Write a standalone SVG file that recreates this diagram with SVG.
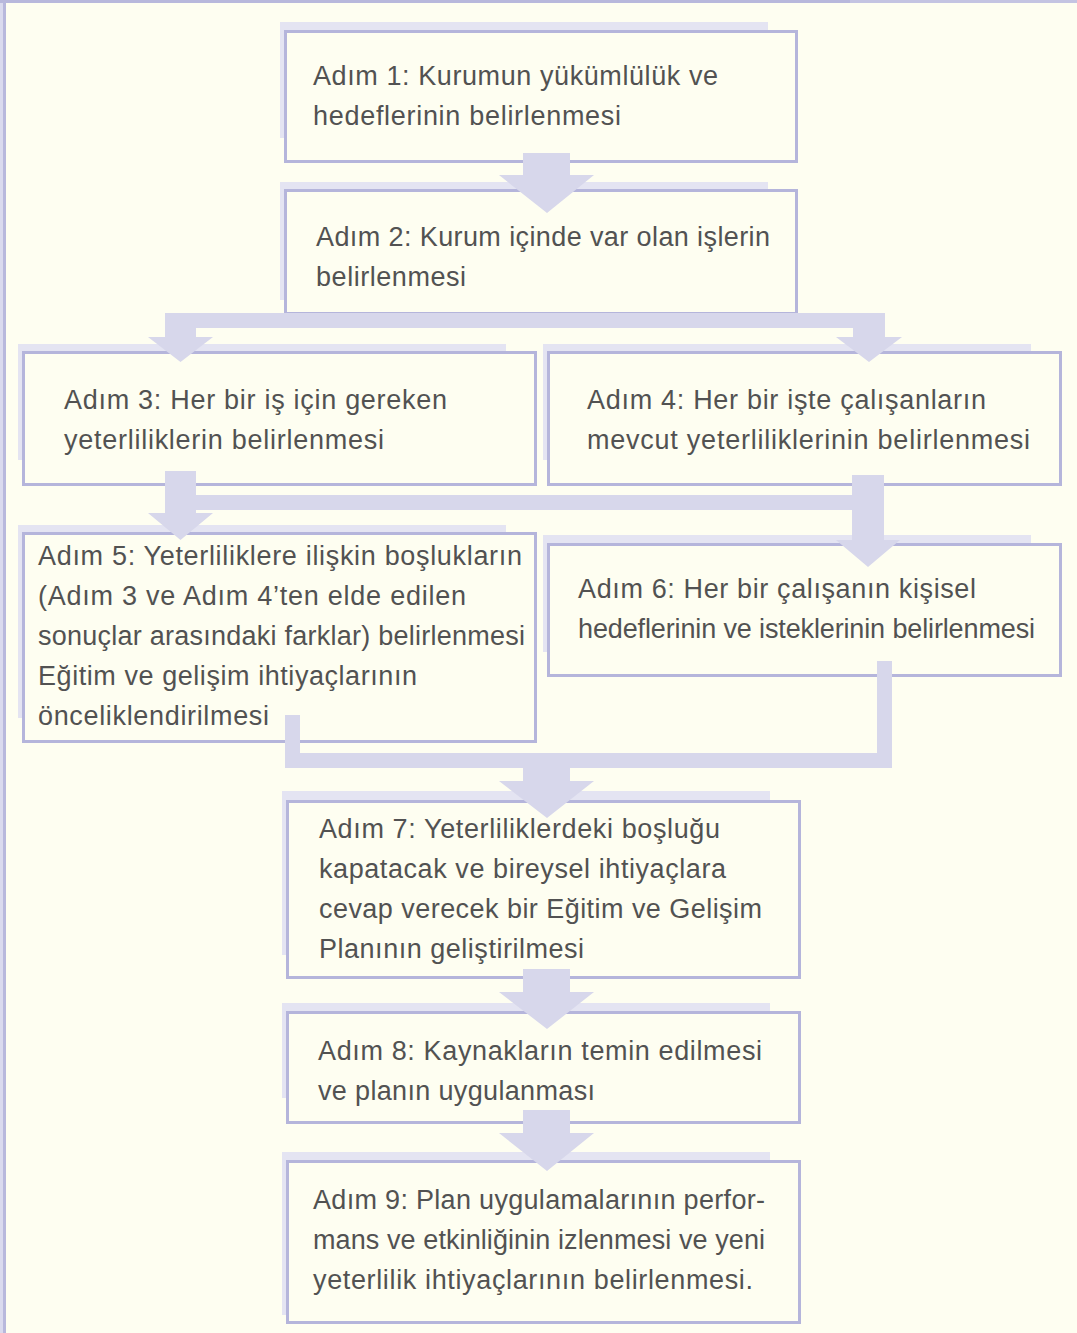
<svg xmlns="http://www.w3.org/2000/svg" width="1077" height="1333" viewBox="0 0 1077 1333">
<style>
.sh{fill:#E4E4F2}
.bx{fill:#FEFEF1;stroke:#B5B5DB;stroke-width:3}
.t{font-family:"Liberation Sans",Arial,sans-serif;font-size:27px;fill:#525252}
.ar{fill:#D7D7EB}
</style>
<rect x="0" y="0" width="1077" height="1333" fill="#FEFEF1"/>
<rect x="0" y="0" width="3" height="1333" fill="#DADAEE"/>
<rect x="3" y="0" width="3" height="1333" fill="#B8B8DC"/>
<rect x="0" y="0" width="850" height="3" fill="#B8B8DC"/>
<rect x="850" y="0" width="227" height="3" fill="#C4C4E2"/>

<g id="n1">
<rect class="sh" x="280" y="22" width="488" height="116"/>
<rect class="bx" x="285.5" y="31.5" width="511" height="130"/>
<text class="t" x="313" y="85" textLength="405" lengthAdjust="spacing">Adım 1: Kurumun yükümlülük ve</text>
<text class="t" x="313" y="125" textLength="308" lengthAdjust="spacing">hedeflerinin belirlenmesi</text>
</g>
<g id="n2">
<rect class="sh" x="280" y="182" width="488" height="118"/>
<rect class="bx" x="285.5" y="190.5" width="511" height="123"/>
<text class="t" x="316" y="246" textLength="454" lengthAdjust="spacing">Adım 2: Kurum içinde var olan işlerin</text>
<text class="t" x="316" y="286" textLength="150" lengthAdjust="spacing">belirlenmesi</text>
</g>
<g id="n3">
<rect class="sh" x="18" y="344" width="488" height="116"/>
<rect class="bx" x="23.5" y="352.5" width="512" height="132"/>
<text class="t" x="64" y="409" textLength="383" lengthAdjust="spacing">Adım 3: Her bir iş için gereken</text>
<text class="t" x="64" y="449" textLength="320" lengthAdjust="spacing">yeterliliklerin belirlenmesi</text>
</g>
<g id="n4">
<rect class="sh" x="543" y="344" width="488" height="116"/>
<rect class="bx" x="548.5" y="352.5" width="512" height="132"/>
<text class="t" x="587" y="409" textLength="399" lengthAdjust="spacing">Adım 4: Her bir işte çalışanların</text>
<text class="t" x="587" y="449" textLength="443" lengthAdjust="spacing">mevcut yeterliliklerinin belirlenmesi</text>
</g>
<g id="n5">
<rect class="sh" x="18" y="525" width="488" height="193"/>
<rect class="bx" x="23.5" y="533.5" width="512" height="208"/>
<text class="t" x="38" y="565" textLength="484" lengthAdjust="spacing">Adım 5: Yeterliliklere ilişkin boşlukların</text>
<text class="t" x="38" y="605" textLength="428" lengthAdjust="spacing">(Adım 3 ve Adım 4’ten elde edilen</text>
<text class="t" x="38" y="645" textLength="487" lengthAdjust="spacing">sonuçlar arasındaki farklar) belirlenmesi</text>
<text class="t" x="38" y="685" textLength="379" lengthAdjust="spacing">Eğitim ve gelişim ihtiyaçlarının</text>
<text class="t" x="38" y="725" textLength="231" lengthAdjust="spacing">önceliklendirilmesi</text>
</g>
<g id="n6">
<rect class="sh" x="543" y="535" width="488" height="117"/>
<rect class="bx" x="548.5" y="544.5" width="512" height="131"/>
<text class="t" x="578" y="598" textLength="398" lengthAdjust="spacing">Adım 6: Her bir çalışanın kişisel</text>
<text class="t" x="578" y="638" textLength="457" lengthAdjust="spacing">hedeflerinin ve isteklerinin belirlenmesi</text>
</g>
<g id="n7">
<rect class="sh" x="282" y="791" width="488" height="164"/>
<rect class="bx" x="287.5" y="801.5" width="512" height="176"/>
<text class="t" x="319" y="838" textLength="401" lengthAdjust="spacing">Adım 7: Yeterliliklerdeki boşluğu</text>
<text class="t" x="319" y="878" textLength="407" lengthAdjust="spacing">kapatacak ve bireysel ihtiyaçlara</text>
<text class="t" x="319" y="918" textLength="443" lengthAdjust="spacing">cevap verecek bir Eğitim ve Gelişim</text>
<text class="t" x="319" y="958" textLength="265" lengthAdjust="spacing">Planının geliştirilmesi</text>
</g>
<g id="n8">
<rect class="sh" x="282" y="1003" width="488" height="95"/>
<rect class="bx" x="287.5" y="1012.5" width="512" height="110"/>
<text class="t" x="318" y="1060" textLength="444" lengthAdjust="spacing">Adım 8: Kaynakların temin edilmesi</text>
<text class="t" x="318" y="1100" textLength="277" lengthAdjust="spacing">ve planın uygulanması</text>
</g>
<g id="n9">
<rect class="sh" x="282" y="1152" width="488" height="163"/>
<rect class="bx" x="287.5" y="1161.5" width="512" height="161"/>
<text class="t" x="313" y="1209" textLength="452" lengthAdjust="spacing">Adım 9: Plan uygulamalarının perfor-</text>
<text class="t" x="313" y="1249" textLength="452" lengthAdjust="spacing">mans ve etkinliğinin izlenmesi ve yeni</text>
<text class="t" x="313" y="1289" textLength="440" lengthAdjust="spacing">yeterlilik ihtiyaçlarının belirlenmesi.</text>
</g>

<g id="connectors">
<polygon class="ar" points="523,153 570,153 570,175 594,175 547,213 499,175 523,175"/>
<path class="ar" d="M165,313 H885 V337 H902 L869,362 L836,337 H853 V328 H196 V337 H213 L180.5,362 L148,337 H165 Z"/>
<path class="ar" d="M165,471 H196 V495 H852 V475 H884 V540 H900 L868,567 L836,540 H852 V510 H196 V513 H213 L180.5,540 L148,513 H165 Z"/>
<path class="ar" d="M285,715 H300 V753 H877 V661 H892 V768 H570 V781 H594 L547,818 L499,781 H523 V768 H285 Z"/>
<polygon class="ar" points="523,969 570,969 570,992 594,992 547,1029 499,992 523,992"/>
<polygon class="ar" points="523,1110 570,1110 570,1133 594,1133 547,1171 499,1133 523,1133"/>
</g>
</svg>
